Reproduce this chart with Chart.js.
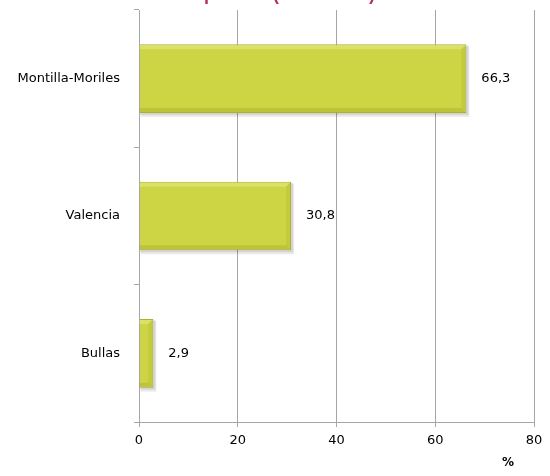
<!DOCTYPE html>
<html>
<head>
<meta charset="utf-8">
<script src="https://cdn.jsdelivr.net/npm/chart.js@4.4.1/dist/chart.umd.min.js"></script>
<style>
  html, body { margin: 0; padding: 0; background: #fff; }
  #wrap { width: 550px; height: 476px; position: relative; }
</style>
</head>
<body>
<div id="wrap"><canvas id="chart"></canvas></div>
<script>
const categories = ['Montilla-Moriles', 'Valencia', 'Bullas'];
const shares = [66.3, 30.8, 2.9];
const shareLabels = ['66,3', '30,8', '2,9'];
const xTicks = [0, 20, 40, 60, 80];
const chartTitle = 'Superficie (% del total)';
const axisUnit = '%';

const gridGray = '#a6a6a6';
const labelFont = 'DejaVu Sans';

function bevel(ctx, pts, color) {
  ctx.fillStyle = color;
  ctx.beginPath();
  ctx.moveTo(pts[0][0], pts[0][1]);
  for (let i = 1; i < pts.length; i++) ctx.lineTo(pts[i][0], pts[i][1]);
  ctx.closePath();
  ctx.fill();
}

// soft shadow under bars, bevel on top of them, value labels
const extrasPlugin = {
  id: 'extras',
  beforeDatasetsDraw(chart) {
    const ctx = chart.ctx;
    ctx.save();
    chart.getDatasetMeta(0).data.forEach(bar => {
      const top = bar.y - bar.height / 2;
      ctx.fillStyle = 'rgba(0,0,0,0.08)';
      ctx.fillRect(bar.base + 1, top + 2, bar.x - bar.base + 2, bar.height + 2);
      ctx.fillStyle = 'rgba(0,0,0,0.10)';
      ctx.fillRect(bar.base + 1, top + 1, bar.x - bar.base + 1, bar.height + 1);
    });
    ctx.restore();
  },
  afterDatasetsDraw(chart) {
    const ctx = chart.ctx;
    ctx.save();
    chart.getDatasetMeta(0).data.forEach(bar => {
      const t = bar.y - bar.height / 2 + 1;
      const bt = bar.y + bar.height / 2 - 1;
      const l = bar.base;
      const r = bar.x - 1;
      const b = 4;
      bevel(ctx, [[l, t], [r, t], [r - b, t + b], [l, t + b]], 'rgba(255,255,190,0.28)');
      bevel(ctx, [[l, bt], [r, bt], [r - b, bt - b], [l, bt - b]], 'rgba(120,120,0,0.18)');
      bevel(ctx, [[r, t], [r, bt], [r - b, bt - b], [r - b, t + b]], 'rgba(120,120,0,0.12)');
    });

    ctx.fillStyle = '#000';
    ctx.font = '13px "' + labelFont + '"';
    ctx.textBaseline = 'middle';
    ctx.textAlign = 'left';
    chart.getDatasetMeta(0).data.forEach((bar, i) => {
      ctx.fillText(shareLabels[i], bar.x + 15, bar.y);
    });
    ctx.restore();
  },
  afterDraw(chart) {
    const ctx = chart.ctx;
    const area = chart.chartArea;
    ctx.save();
    ctx.fillStyle = '#b5306b';
    ctx.font = 'bold 18px "Liberation Sans"';
    ctx.textAlign = 'center';
    ctx.textBaseline = 'alphabetic';
    ctx.fillText(chartTitle, 278, 0);
    ctx.fillStyle = '#000';
    ctx.font = 'bold 12px "' + labelFont + '"';
    ctx.fillText(axisUnit, area.right - 26, 466);
    ctx.restore();
  }
};

new Chart(document.getElementById('chart'), {
  type: 'bar',
  data: {
    labels: categories,
    datasets: [{
      data: shares,
      backgroundColor: '#cdd545',
      borderColor: '#a9b12e',
      borderWidth: 1,
      borderSkipped: false,
      categoryPercentage: 1,
      barPercentage: 0.5,
    }],
  },
  options: {
    indexAxis: 'y',
    responsive: true,
    maintainAspectRatio: false,
    animation: false,
    layout: { padding: { top: 10, right: 16, bottom: 0, left: 0 } },
    plugins: {
      legend: { display: false },
      tooltip: { enabled: false },
      title: { display: false },
    },
    scales: {
      x: {
        min: 0,
        max: 80,
        afterBuildTicks(scale) {
          scale.ticks = xTicks.map(v => ({ value: v }));
        },
        afterFit(scale) {
          scale.height = 54;
          scale.paddingLeft = 0;
          scale.paddingRight = 0;
        },
        grid: {
          color: gridGray,
          tickLength: 5,
          lineWidth: 1,
        },
        border: { display: true, color: gridGray },
        ticks: {
          color: '#000',
          padding: 6,
          font: { family: labelFont, size: 13 },
        },
      },
      y: {
        afterFit(scale) {
          scale.width = 139;
          scale.paddingTop = 0;
          scale.paddingBottom = 0;
        },
        grid: {
          offset: true,
          drawOnChartArea: false,
          color: gridGray,
          tickLength: 5,
        },
        border: { display: true, color: gridGray },
        ticks: {
          color: '#000',
          padding: 14,
          font: { family: labelFont, size: 13 },
        },
      },
    },
  },
  plugins: [extrasPlugin],
});
</script>
</body>
</html>
